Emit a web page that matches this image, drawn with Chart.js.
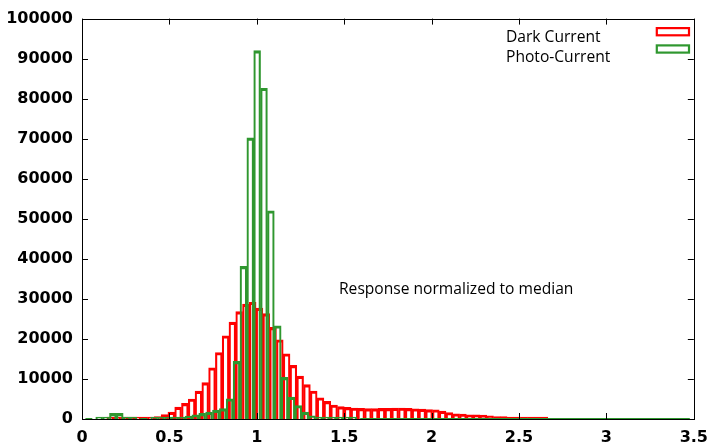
<!DOCTYPE html>
<html>
<head>
<meta charset="utf-8">
<title>Response histogram</title>
<script src="https://cdn.jsdelivr.net/npm/chart.js@4.4.1/dist/chart.umd.min.js"></script>
<style>
    html, body { margin: 0; padding: 0; background: #fff; }
    #chart { display: block; }
</style>
</head>
<body>
<canvas id="chart" width="717" height="446"></canvas>
<script>
// Histogram data, response normalized to median

// Dark current: bin centers and counts
const darkCenters = [
    0.1617, 0.2005, 0.2393, 0.2781, 0.3169, 0.3557, 0.3945, 0.4333, 0.4721, 0.5109,
    0.5497, 0.5885, 0.6273, 0.6661, 0.7049, 0.7437, 0.7825, 0.8213, 0.8601, 0.8989,
    0.9377, 0.9765, 1.0153, 1.0541, 1.0929, 1.1317, 1.1705, 1.2093, 1.2481, 1.2869,
    1.3257, 1.3645, 1.4033, 1.4421, 1.4809, 1.5197, 1.5585, 1.5973, 1.6361, 1.6749,
    1.7137, 1.7525, 1.7913, 1.8301, 1.8689, 1.9077, 1.9465, 1.9853, 2.0241, 2.0629,
    2.1017, 2.1405, 2.1793, 2.2181, 2.2569, 2.2957, 2.3345, 2.3733, 2.4121, 2.4509,
    2.4897, 2.5285, 2.5673, 2.6061, 2.6449
];
const darkCurrent = [
    200, 400, 350, 50, 50, 150, 300, 620, 1100, 1700,
    2950, 3900, 5000, 6950, 9100, 12800, 16600, 20800, 24200, 26800,
    28700, 29150, 27700, 26300, 22900, 19800, 16300, 13400, 10700, 8600,
    7000, 5300, 4400, 3500, 3100, 2900, 2750, 2650, 2600, 2600,
    2650, 2650, 2700, 2750, 2650, 2550, 2450, 2350, 2300, 1950,
    1620, 1300, 1250, 1050, 1050, 950, 800, 620, 600, 450,
    450, 400, 300, 300, 250
];

// Photo-current: bin centers and counts
const photoCenters = [
    0.0196, 0.0589, 0.0982, 0.1375, 0.1768, 0.2161, 0.2553, 0.2946, 0.3339, 0.3732,
    0.4125, 0.4518, 0.4911, 0.5304, 0.5697, 0.6090, 0.6482, 0.6875, 0.7268, 0.7661,
    0.8054, 0.8447, 0.8840, 0.9233, 0.9626, 1.0019, 1.0411, 1.0804, 1.1197, 1.1590,
    1.1983, 1.2376, 1.2769, 1.3162, 1.3555, 1.3948, 1.4340, 1.4733, 1.5126, 1.5519,
    1.5912, 1.6305, 1.6698, 1.7091, 1.7484, 1.7877, 1.8269, 1.8662, 1.9055, 1.9448,
    1.9841, 2.0234, 2.0627, 2.1020, 2.1413, 2.1806, 2.2198, 2.2591, 2.2984, 2.3377,
    2.3770, 2.4163, 2.4556, 2.4949, 2.5342, 2.5735, 2.6127, 2.6520, 2.6913, 2.7306,
    2.7699, 2.8092, 2.8485, 2.8878, 2.9271, 2.9664, 3.0056, 3.0449, 3.0842, 3.1235,
    3.1628, 3.2021, 3.2414, 3.2807, 3.3200, 3.3593, 3.3985, 3.4378, 3.4771
];
const photoCurrent = [
    0, 0, 100, 500, 1400, 1400, 500, 100, 0, 0,
    50, 100, 150, 250, 450, 700, 1050, 1400, 1700, 2200,
    2600, 5050, 14400, 38100, 70200, 92000, 82600, 52000, 23300, 10400,
    5450, 3370, 1700, 800, 450, 300, 200, 150, 100, 100,
    0, 0, 0, 0, 0, 0, 0, 0, 0, 0,
    0, 0, 0, 0, 0, 0, 0, 0, 0, 0,
    0, 0, 0, 0, 0, 0, 0, 0, 0, 0,
    0, 0, 0, 0, 0, 0, 0, 0, 0, 0,
    0, 0, 0, 0, 0, 0, 0, 0, 0
];

const xTickValues = [0, 0.5, 1, 1.5, 2, 2.5, 3, 3.5];
const xTickLabels = ['0', '0.5', '1', '1.5', '2', '2.5', '3', '3.5'];
const yTickValues = [0, 10000, 20000, 30000, 40000, 50000, 60000, 70000, 80000, 90000, 100000];
const yTickLabels = ['0', '10000', '20000', '30000', '40000', '50000', '60000', '70000', '80000', '90000', '100000'];

const RED = '#ff0000';
const GREEN = '#2f972f';
const TICK_FONT = { family: 'DejaVu Sans', weight: 'bold', size: 16 };
const TEXT_FONT = '15.6px "Open Sans"';

// Empty bins get no box, they are drawn by the baseline step line
function toPoints(xs, ys) {
    return xs.map((x, i) => ({ x: x, y: ys[i] === 0 ? null : ys[i] }));
}

function toLinePoints(xs, ys) {
    return xs.map((x, i) => ({ x: x, y: ys[i] }));
}

function fixedTicks(values) {
    return scale => {
        scale.ticks = values.map(v => ({ value: v }));
    };
}

const boxStyle = {
    backgroundColor: 'rgba(0,0,0,0)',
    borderWidth: { top: 2.5, right: 1.5, bottom: 0, left: 1.5 },
    minBarLength: 2,
    barPercentage: 1,
    categoryPercentage: 1,
    grouped: false
};

// Frame with inward tics, key and label (gnuplot look)
const framePlugin = {
    id: 'frame',
    afterDatasetsDraw(chart) {
        const { ctx, chartArea: a, scales } = chart;
        const tic = 6;
        ctx.save();
        ctx.strokeStyle = '#000';
        ctx.lineWidth = 1;
        ctx.beginPath();
        xTickValues.forEach(v => {
            const px = Math.round(scales.x.getPixelForValue(v)) + 0.5;
            ctx.moveTo(px, a.bottom);
            ctx.lineTo(px, a.bottom - tic);
            ctx.moveTo(px, a.top);
            ctx.lineTo(px, a.top + tic);
        });
        yTickValues.forEach(v => {
            const py = Math.round(scales.y.getPixelForValue(v)) + 0.5;
            ctx.moveTo(a.left, py);
            ctx.lineTo(a.left + tic, py);
            ctx.moveTo(a.right, py);
            ctx.lineTo(a.right - tic, py);
        });
        ctx.stroke();
        ctx.strokeRect(Math.round(a.left) + 0.5, Math.round(a.top) + 0.5,
            Math.round(a.right - a.left), Math.round(a.bottom - a.top));
        ctx.restore();
    },
    afterDraw(chart) {
        const ctx = chart.ctx;
        ctx.save();
        ctx.font = TEXT_FONT;
        ctx.fillStyle = '#000';
        ctx.textAlign = 'left';
        ctx.textBaseline = 'middle';
        ctx.fillText('Dark Current', 506, 38);
        ctx.fillText('Photo-Current', 506, 57.5);
        ctx.fillText('Response normalized to median', 339, 290);

        ctx.lineWidth = 2.2;
        ctx.strokeStyle = RED;
        ctx.strokeRect(656.8, 28.1, 32.2, 7.2);
        ctx.strokeStyle = GREEN;
        ctx.strokeRect(656.8, 45.4, 32.2, 7.2);
        ctx.restore();
    }
};

const chart = new Chart(document.getElementById('chart'), {
    type: 'bar',
    data: {
        datasets: [
            Object.assign({
                label: 'Dark Current',
                data: toPoints(darkCenters, darkCurrent),
                xAxisID: 'x',
                borderColor: RED,
                order: 2
            }, boxStyle),
            Object.assign({
                label: 'Photo-Current',
                data: toPoints(photoCenters, photoCurrent),
                xAxisID: 'x2',
                borderColor: GREEN,
                order: 1
            }, boxStyle),
            {
                // empty photo-current bins along the baseline
                type: 'line',
                label: 'Photo-Current base',
                data: toLinePoints(photoCenters, photoCurrent),
                xAxisID: 'x2',
                stepped: 'middle',
                borderWidth: 2,
                pointRadius: 0,
                fill: false,
                borderColor: GREEN,
                segment: {
                    borderColor: c => (c.p0.parsed.y === 0 && c.p1.parsed.y === 0) ? GREEN : 'rgba(0,0,0,0)'
                },
                order: 0
            }
        ]
    },
    options: {
        responsive: false,
        animation: false,
        events: [],
        layout: {
            padding: { left: 0, right: 14, top: 18, bottom: 0 }
        },
        plugins: {
            legend: { display: false },
            tooltip: { enabled: false },
            title: { display: false }
        },
        scales: {
            x: {
                type: 'linear',
                min: 0,
                max: 3.5,
                offset: false,
                afterBuildTicks: fixedTicks(xTickValues),
                afterFit: scale => { scale.height = 27; },
                grid: { display: false, drawTicks: false, offset: false },
                border: { display: false },
                ticks: {
                    font: TICK_FONT,
                    color: '#000',
                    padding: 9,
                    maxRotation: 0,
                    autoSkip: false,
                    callback: (v, i) => xTickLabels[i]
                }
            },
            x2: {
                type: 'linear',
                min: 0,
                max: 3.5,
                offset: false,
                display: false,
                grid: { offset: false }
            },
            y: {
                min: 0,
                max: 100000,
                afterBuildTicks: fixedTicks(yTickValues),
                afterFit: scale => { scale.width = 82; },
                grid: { display: false, drawTicks: false },
                border: { display: false },
                ticks: {
                    font: TICK_FONT,
                    color: '#000',
                    padding: 9,
                    callback: (v, i) => yTickLabels[i]
                }
            }
        }
    },
    plugins: [framePlugin]
});
</script>
</body>
</html>
